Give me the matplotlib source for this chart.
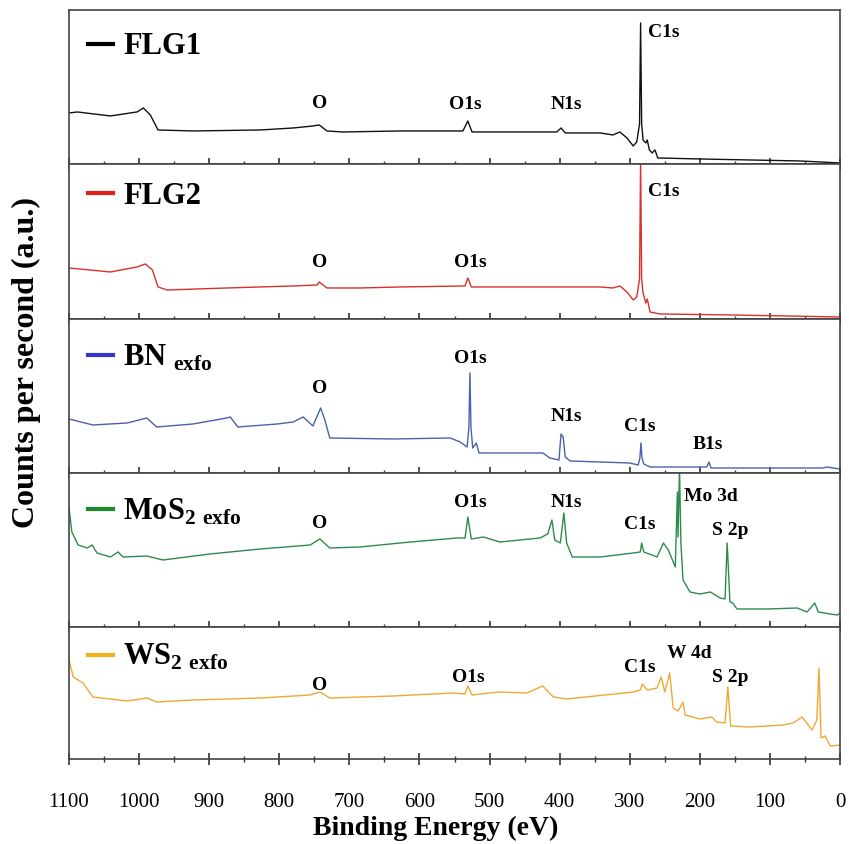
import matplotlib.pyplot as plt
from matplotlib.ticker import MultipleLocator

plt.rcParams.update({
    'font.family': 'Liberation Serif',
    'font.weight': 'bold',
    'mathtext.fontset': 'custom',
    'mathtext.rm': 'Liberation Serif:bold',
    'mathtext.bf': 'Liberation Serif:bold',
    'axes.linewidth': 1.2,
    'axes.edgecolor': '#444444',
})

# XPS survey spectra: binding energy (eV) and counts (a.u.)
flg1_be = [1100, 1088, 1041, 1003, 994, 984, 973, 923, 827, 780, 752, 743, 732, 709, 628,
           538, 531, 525, 404, 398, 392, 342, 324, 314, 304, 295, 290, 286, 284.5, 283,
           281, 277, 275, 272, 268, 264, 260, 200, 57, 0]
flg1_cps = [51, 52, 48, 52, 56, 49, 34, 33, 34, 36, 38, 39, 33, 32, 33,
            33, 43, 32, 32, 36, 31, 31, 29, 32, 26, 18, 22, 40, 141, 40,
            24, 21, 24, 14, 11, 14, 6, 5, 3, 1]

flg2_be = [1100, 1041, 1003, 991, 981, 973, 960, 875, 780, 746, 743, 732, 685, 628,
           535, 531, 526, 342, 324, 314, 304, 295, 290, 286, 284.5, 283, 281, 277,
           275, 271, 257, 153, 0]
flg2_cps = [51, 47, 52, 55, 49, 32, 29, 31, 33, 34, 37, 31, 31, 32,
            33, 41, 32, 32, 31, 33, 27, 19, 22, 40, 160, 40, 26, 16,
            20, 7, 5, 4, 2]

bn_be = [1100, 1066, 1017, 989, 975, 923, 875, 870, 859, 803, 780, 766, 752, 741, 735,
         728, 638, 556, 542, 532, 529.5, 528, 526.5, 524, 519, 515, 424, 414, 401, 398,
         395, 392, 385, 300, 288, 285.5, 284, 282.5, 280, 271, 190, 187, 184, 24, 19, 0]
bn_cps = [54, 48, 50, 55, 46, 49, 55, 56, 46, 49, 51, 56, 47, 65, 53,
          35, 34, 35, 31, 26, 45, 100, 45, 25, 30, 20, 20, 15, 13, 39,
          36, 16, 12, 10, 8, 15, 30, 15, 9, 6, 6, 11, 5, 5, 6, 4]

mos2_be = [1100, 1096, 1087, 1074, 1067, 1060, 1041, 1030, 1023, 989, 966, 899, 827, 756,
           742, 728, 685, 613, 546, 535, 531, 526, 509, 485, 428, 417, 411, 407, 399,
           394, 390, 382, 342, 295, 285, 283, 280, 261, 252, 245, 235, 232, 231, 229,
           227, 224, 214, 200, 185, 171, 164, 161, 157, 153, 147, 104, 61, 47, 36, 31,
           14, 4, 0]
mos2_cps = [119, 95, 82, 79, 82, 74, 70, 75, 70, 71, 67, 73, 78, 82,
            88, 79, 80, 85, 89, 89, 110, 88, 90, 85, 89, 93, 107, 87, 84,
            114, 84, 70, 70, 74, 75, 84, 75, 70, 84, 77, 60, 135, 90, 160,
            84, 47, 35, 33, 35, 29, 28, 84, 25, 24, 18, 18, 19, 15, 24, 15,
            13, 12, 14]

ws2_be = [1100, 1094, 1080, 1066, 1041, 1017, 989, 975, 923, 827, 756, 742, 728, 638,
          552, 535, 531, 525, 488, 447, 424, 409, 390, 295, 285, 282, 275, 261, 255,
          250, 243, 238, 231, 224, 221, 200, 183, 176, 164, 160, 156, 128, 81, 67, 54,
          40, 33, 30, 27, 21, 14, 0]
ws2_cps = [99, 82, 76, 62, 60, 58, 61, 57, 59, 61, 64, 67, 61, 63,
           66, 65, 73, 64, 67, 66, 73, 62, 60, 67, 69, 75, 69, 71, 82,
           67, 86, 51, 48, 57, 44, 40, 42, 37, 36, 72, 33, 32, 34, 36, 42,
           29, 39, 91, 21, 23, 13, 14]

sample_names = ['FLG1', 'FLG2', r'BN$_{\ \mathbf{exfo}}$',
                r'MoS$_{\mathbf{2\ exfo}}$', r'WS$_{\mathbf{2\ exfo}}$']
line_colors = ['#111111', '#d9302a', '#4a62ac', '#2e8b4e', '#eda936']
handle_colors = ['#000000', '#e0201b', '#3535c8', '#1c8a2c', '#f2b01e']
panel_tops = [154, 155, 154, 154, 132]
legend_y = [0.76, 0.79, 0.75, 0.75, 0.77]

# peak assignments: (label, binding energy, height in panel units)
peaks = [
    [('O', 742, 60), ('O1s', 534, 59), ('N1s', 391, 59), ('C1s', 252, 131)],
    [('O', 742, 56), ('O1s', 528, 56), ('C1s', 252, 127)],
    [('O', 742, 84), ('O1s', 528, 114), ('N1s', 390, 56), ('C1s', 285, 46), ('B1s', 188, 28)],
    [('O', 743, 103), ('O1s', 528, 124), ('N1s', 391, 124), ('C1s', 285, 102),
     ('Mo 3d', 184, 130), ('S 2p', 157, 96)],
    [('O', 743, 74), ('O1s', 530, 82), ('C1s', 285, 92), ('W 4d', 215, 106), ('S 2p', 157, 82)],
]

spectra = [(flg1_be, flg1_cps), (flg2_be, flg2_cps), (bn_be, bn_cps),
           (mos2_be, mos2_cps), (ws2_be, ws2_cps)]

fig, axes = plt.subplots(5, 1, figsize=(8.49, 8.44), dpi=100, sharex=True,
                         gridspec_kw={'height_ratios': panel_tops, 'hspace': 0})
fig.subplots_adjust(left=0.0813, right=0.9894, top=0.9882, bottom=0.1007)

for i, ax in enumerate(axes):
    be, cps = spectra[i]
    ax.plot(be, cps, color=line_colors[i], lw=1.0)
    ax.plot([], [], color=handle_colors[i], lw=3, label=sample_names[i])
    ax.set_ylim(0, panel_tops[i])
    ax.set_yticks([])
    ax.set_xlim(1100, 0)
    ax.xaxis.set_major_locator(MultipleLocator(100))
    ax.xaxis.set_minor_locator(MultipleLocator(50))
    ax.tick_params(axis='x', which='major', direction='inout', length=9, width=1.2,
                   color='#333333', top=False, labelbottom=False)
    ax.tick_params(axis='x', which='minor', direction='inout', length=5, width=1.0,
                   color='#333333', top=False)
    ax.legend(loc='center left', bbox_to_anchor=(0.0246, legend_y[i]), frameon=False,
              borderpad=0, borderaxespad=0, handlelength=0.82, handletextpad=0.33,
              prop={'family': 'Liberation Serif', 'weight': 'bold', 'size': 22})
    for name, x, y in peaks[i]:
        ax.text(x, y, name, ha='center', va='center', fontsize=14, fontweight='bold')

axes[-1].tick_params(axis='x', labelbottom=True, labelsize=15, pad=20)
for lab in axes[-1].get_xticklabels():
    lab.set_fontweight('normal')
axes[-1].set_xlabel('Binding Energy (eV)', fontsize=20, fontweight='bold')
axes[-1].xaxis.set_label_coords(0.475, -0.43)
fig.text(0.031, 0.571, 'Counts per second (a.u.)', rotation=90, ha='center', va='center',
         fontsize=23, fontweight='bold')

plt.savefig('out.png', dpi=100)
